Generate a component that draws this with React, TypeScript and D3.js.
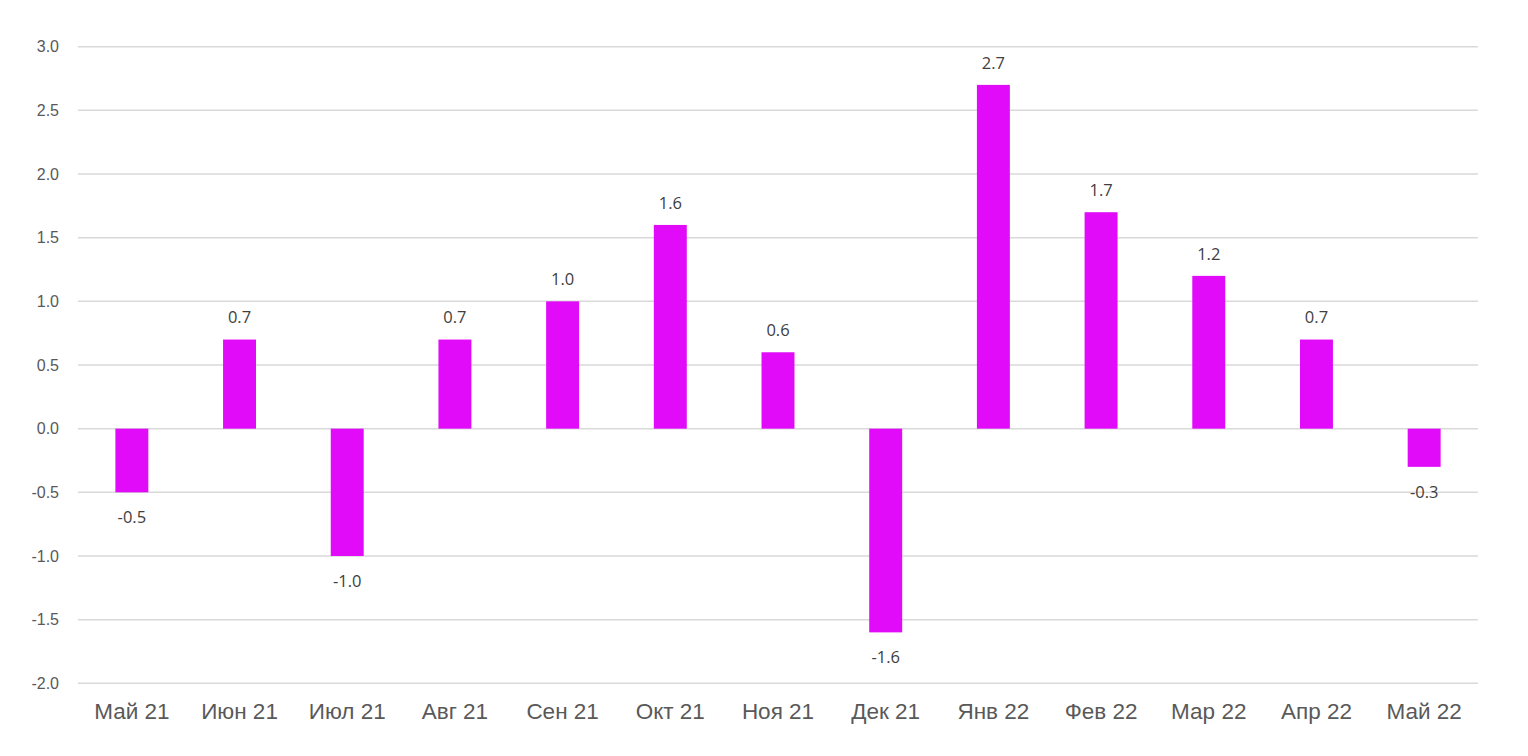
import React from "react";
import * as d3 from "d3";

const categories = ["Май 21", "Июн 21", "Июл 21", "Авг 21", "Сен 21", "Окт 21", "Ноя 21", "Дек 21", "Янв 22", "Фев 22", "Мар 22", "Апр 22", "Май 22"];
const values = [-0.5, 0.7, -1.0, 0.7, 1.0, 1.6, 0.6, -1.6, 2.7, 1.7, 1.2, 0.7, -0.3];
const yTicks = [-2.0, -1.5, -1.0, -0.5, 0.0, 0.5, 1.0, 1.5, 2.0, 2.5, 3.0];

const W = 1528, H = 756;
const left = 78, right = 1478, top = 46.7, bottom = 683.3;

export default function App() {
  const x = d3.scaleBand<string>().domain(categories).range([left, right]).paddingInner(0.694).paddingOuter(0.347);
  const y = d3.scaleLinear().domain([-2, 3]).range([bottom, top]);
  const fmt = (v: number) => d3.format(".1f")(v).replace("\u2212", "-");
  return (
    <svg width={W} height={H} style={{ position: "absolute", left: 0, top: 0, background: "#fff" }}>
      {yTicks.map((t) => (
        <g key={t}>
          <line x1={left} x2={right} y1={y(t)} y2={y(t)} stroke="#d9d9d9" strokeWidth={1.5} />
          <text x={59} y={y(t)} dy="0.35em" textAnchor="end" fontFamily="Liberation Sans, Arial" fontSize={16} fill="#595959">
            {fmt(t)}
          </text>
        </g>
      ))}
      {categories.map((c, i) => {
        const v = values[i];
        const y0 = y(0), y1 = y(v);
        const cx = (x(c) as number) + x.bandwidth() / 2;
        return (
          <g key={c}>
            <rect x={x(c)} width={x.bandwidth()} y={Math.min(y0, y1)} height={Math.abs(y1 - y0)} fill="#E10BFA" />
            <text x={cx} y={v >= 0 ? y1 - 22 : y1 + 25} dy="0.35em" textAnchor="middle" fontFamily="Open Sans, Liberation Sans" fontSize={16.5} fill="#404040">
              {fmt(v)}
            </text>
            <text x={cx} y={711} dy="0.35em" textAnchor="middle" fontFamily="Liberation Sans, Arial" fontSize={22.5} fill="#595959">
              {c}
            </text>
          </g>
        );
      })}
    </svg>
  );
}
